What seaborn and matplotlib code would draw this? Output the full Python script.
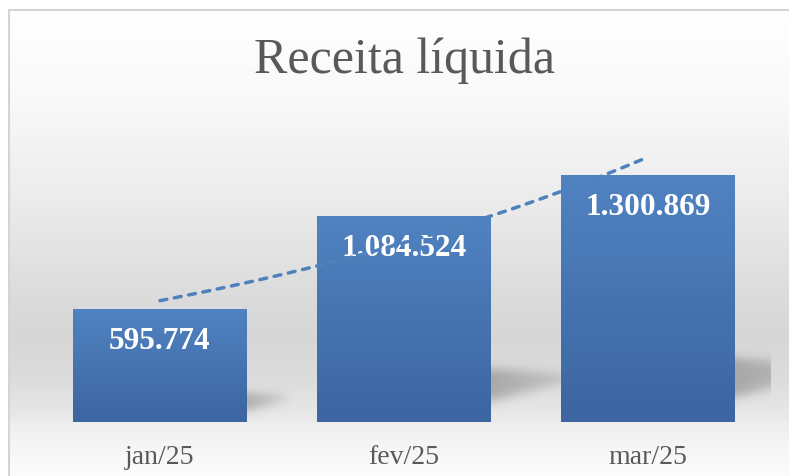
import numpy as np
import pandas as pd
import matplotlib
matplotlib.use('Agg')
import matplotlib.pyplot as plt
import seaborn as sns
from matplotlib.lines import Line2D
from matplotlib.colors import to_rgb

# dados
meses = ['jan/25', 'fev/25', 'mar/25']
receita = [595774, 1084524, 1300869]
rotulos = ['595.774', '1.084.524', '1.300.869']

W, H = 789, 477
Y_MAX = 1600000
AX_L, AX_B, AX_W, AX_H = 38, 54, 732, 304  # pixels

sns.set_theme(style='white')
plt.rcParams['font.family'] = ['Liberation Serif', 'DejaVu Serif']

fig = plt.figure(figsize=(W / 100, H / 100), dpi=100)
fig.patch.set_facecolor('white')

# fundo da area do grafico (gradiente vertical)
bg = fig.add_axes([8 / W, 0, 1 - 8 / W, (H - 10) / H])
stops_y = [10, 100, 200, 300, 340, 380, 422, 424, 445, 477]
stops_c = [255, 249, 236, 219, 215, 220, 234, 238, 245, 252]
yy = np.arange(10, H + 1)
gray = np.interp(yy, stops_y, stops_c) / 255
bg.imshow(np.repeat(gray[:, None], 3, axis=1)[:, None, :], aspect='auto',
          extent=[0, 1, 0, 1], interpolation='bilinear')
bg.axis('off')

# borda
fig.add_artist(Line2D([8.5 / W, 8.5 / W], [0, 1 - 10.5 / H], color='#d4d4d4', lw=1.5))
fig.add_artist(Line2D([8.5 / W, 1], [1 - 10.5 / H, 1 - 10.5 / H], color='#d4d4d4', lw=1.5))

ax = fig.add_axes([AX_L / W, AX_B / H, AX_W / W, AX_H / H])
ax.patch.set_alpha(0)

df = pd.DataFrame({'mes': meses, 'receita': receita})
sns.barplot(data=df, x='mes', y='receita', color='#4a7ab8', width=0.71,
            saturation=1, ax=ax, zorder=3, edgecolor='none', linewidth=0)

px_x = AX_W / 3
px_y = AX_H / Y_MAX
c_top = np.array(to_rgb('#5083c1'))
c_bot = np.array(to_rgb('#3c65a1'))


def blur(a, s):
    k = np.arange(-3 * s, 3 * s + 1)
    k = np.exp(-k ** 2 / (2 * s ** 2))
    k /= k.sum()
    a = np.apply_along_axis(lambda r: np.convolve(r, k, mode='same'), 0, a)
    a = np.apply_along_axis(lambda r: np.convolve(r, k, mode='same'), 1, a)
    return a


for p, lab in zip(ax.patches, rotulos):
    x0, w, h = p.get_x(), p.get_width(), p.get_height()

    # gradiente da barra
    t = np.linspace(0, 1, 200)[:, None]
    grad = (c_top * (1 - t) + c_bot * t)[:, None, :]
    im = ax.imshow(grad, extent=[x0, x0 + w, 0, h], aspect='auto', zorder=3.5,
                   origin='upper', interpolation='bilinear')
    im.set_clip_path(p)

    # sombra
    h_px = h * px_y
    top, bot, ws = 0.26 * h_px, 0.1 * h_px, 0.36 * h_px
    u = np.arange(-15, ws + 20)
    v = np.arange(0, top + 20)
    U, V = np.meshgrid(u, v)
    frac = np.clip(U / ws, 0, 1)
    top_e = top * (1 - 0.1 * frac)
    bot_e = bot + (top * 0.75 - bot) * frac
    mask = ((V > bot_e) & (V < top_e) & (U >= -15) & (U <= ws)).astype(float)
    mask *= (1 - 0.5 * frac)
    mask = blur(mask, 5)
    rgba = np.zeros(mask.shape + (4,))
    rgba[..., :3] = 0.3
    rgba[..., 3] = 0.36 * mask
    xr = x0 + w
    ax.imshow(rgba, extent=[xr + u[0] / px_x, xr + u[-1] / px_x, 0, v[-1] / px_y],
              aspect='auto', origin='lower', zorder=2, interpolation='bilinear')

    # rotulo de dados
    ax.annotate(lab, (x0 + w / 2, h), xytext=(0, -22.5), textcoords='offset points',
                ha='center', va='center', color='white', fontweight='bold',
                fontsize=22.5, zorder=4)

# linha de tendencia exponencial
coef = np.polyfit(np.arange(len(receita)), np.log(receita), 1)
xs = np.linspace(0, len(receita) - 1, 80)
ax.plot(xs, np.exp(np.polyval(coef, xs)), color='#4f81bd', lw=2.5,
        ls=(0, (2.0, 2.2)), dash_capstyle='round', zorder=5)

ax.set_xlim(-0.5, 2.5)
ax.set_ylim(0, Y_MAX)
ax.set_yticks([])
ax.set_xlabel('')
ax.set_ylabel('')
ax.tick_params(axis='x', length=0, pad=16, labelsize=20, labelcolor='#595959')
sns.despine(ax=ax, left=True, bottom=True)

fig.text(404 / W, 1 - 61 / H, 'Receita líquida', ha='center', va='center',
         fontsize=36, color='#595959')

fig.savefig('out.png', dpi=100)
